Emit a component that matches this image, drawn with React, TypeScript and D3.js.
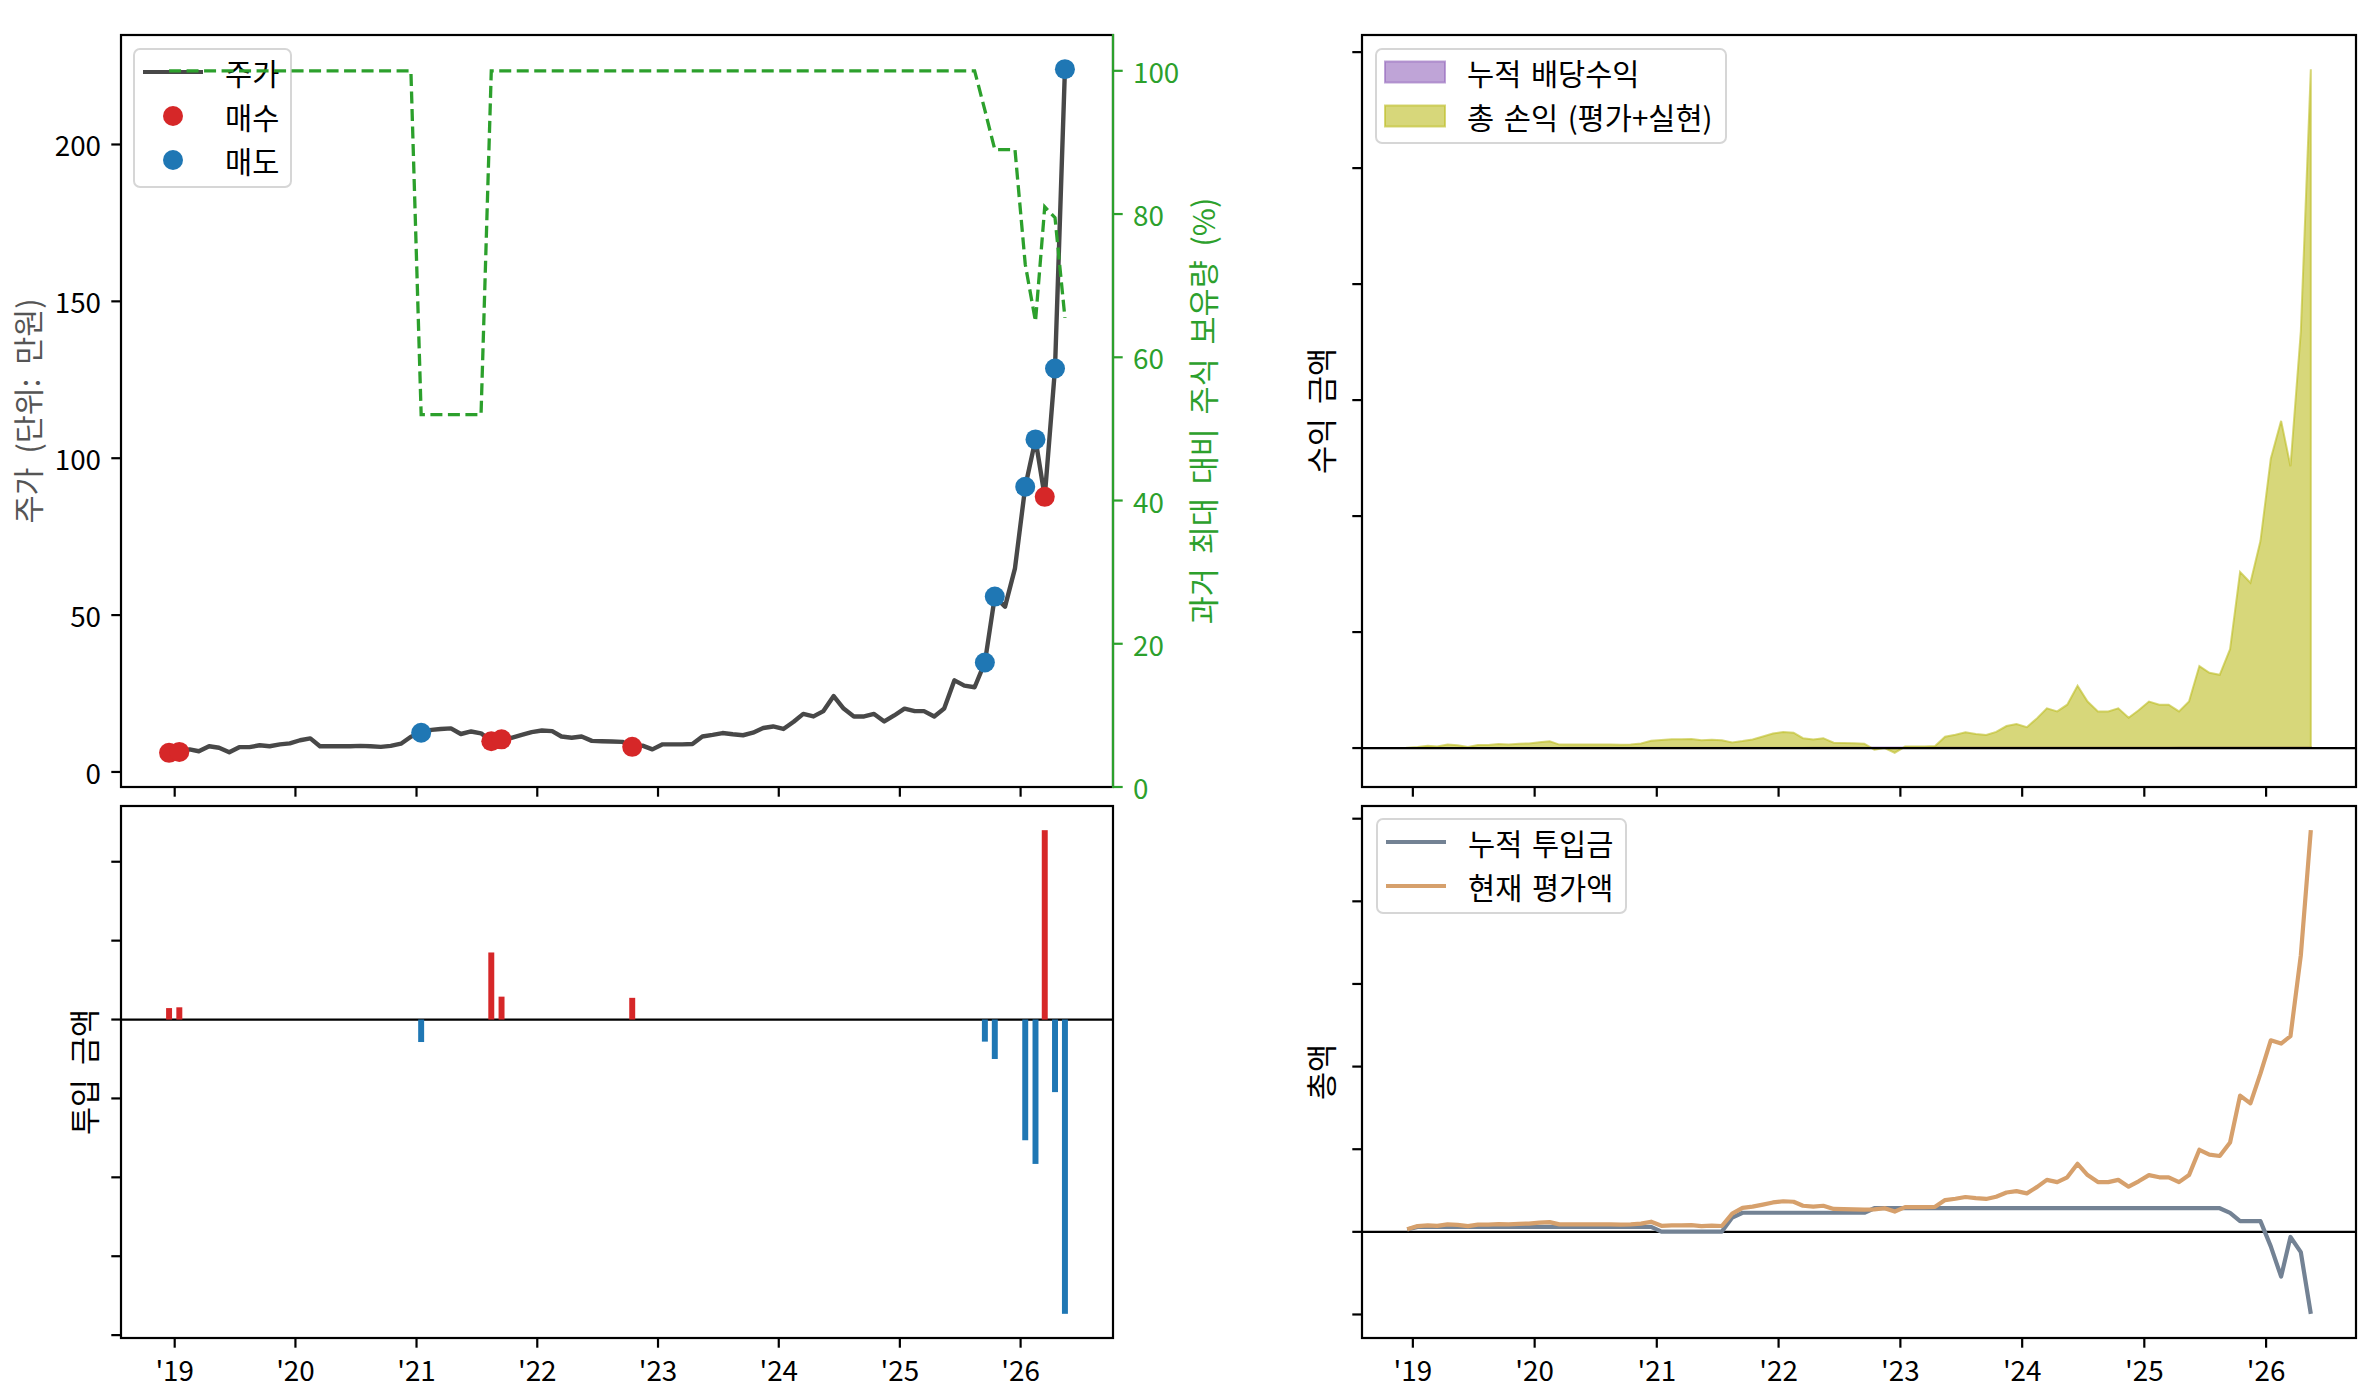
import React, { useRef, useEffect } from 'react'
import * as d3 from 'd3'

// monthly samples (mid-month)
const months = [
  '2018-12',
  '2019-01', '2019-02', '2019-03', '2019-04', '2019-05', '2019-06', '2019-07', '2019-08', '2019-09', '2019-10', '2019-11', '2019-12',
  '2020-01', '2020-02', '2020-03', '2020-04', '2020-05', '2020-06', '2020-07', '2020-08', '2020-09', '2020-10', '2020-11', '2020-12',
  '2021-01', '2021-02', '2021-03', '2021-04', '2021-05', '2021-06', '2021-07', '2021-08', '2021-09', '2021-10', '2021-11', '2021-12',
  '2022-01', '2022-02', '2022-03', '2022-04', '2022-05', '2022-06', '2022-07', '2022-08', '2022-09', '2022-10', '2022-11', '2022-12',
  '2023-01', '2023-02', '2023-03', '2023-04', '2023-05', '2023-06', '2023-07', '2023-08', '2023-09', '2023-10', '2023-11', '2023-12',
  '2024-01', '2024-02', '2024-03', '2024-04', '2024-05', '2024-06', '2024-07', '2024-08', '2024-09', '2024-10', '2024-11', '2024-12',
  '2025-01', '2025-02', '2025-03', '2025-04', '2025-05', '2025-06', '2025-07', '2025-08', '2025-09', '2025-10', '2025-11', '2025-12',
  '2026-01', '2026-02', '2026-03', '2026-04', '2026-05',
]

// 주가 (만원)
const price = [
  6.1,
  6.4, 7.2, 6.6, 8.2, 7.7, 6.3, 7.9, 7.9, 8.5, 8.2, 8.8, 9.1,
  10.1, 10.7, 8.2, 8.2, 8.2, 8.2, 8.3, 8.2, 8.0, 8.3, 9.0, 11.2,
  12.5, 13.4, 13.7, 13.9, 12.1, 12.9, 12.3, 9.8, 10.4, 10.9, 11.8, 12.7,
  13.2, 13.0, 11.3, 10.9, 11.3, 9.9, 9.8, 9.7, 9.6, 8.0, 8.4, 7.2,
  8.8, 8.8, 8.8, 8.9, 11.3, 11.8, 12.4, 12.0, 11.7, 12.5, 14.0, 14.5,
  13.7, 16.0, 18.5, 17.7, 19.4, 24.2, 20.2, 17.7, 17.7, 18.5, 16.1, 18.0,
  20.2, 19.4, 19.4, 17.7, 20.2, 29.2, 27.5, 27.0, 34.9, 55.9, 52.7, 64.9,
  90.9, 106.0, 87.7, 128.6, 224.0,
]

// 과거 최대 대비 주식 보유량 (%)
const holdingPct = [
  100,
  100, 100, 100, 100, 100, 100, 100, 100, 100, 100, 100, 100,
  100, 100, 100, 100, 100, 100, 100, 100, 100, 100, 100, 100,
  52, 52, 52, 52, 52, 52, 52, 100, 100, 100, 100, 100,
  100, 100, 100, 100, 100, 100, 100, 100, 100, 100, 100, 100,
  100, 100, 100, 100, 100, 100, 100, 100, 100, 100, 100, 100,
  100, 100, 100, 100, 100, 100, 100, 100, 100, 100, 100, 100,
  100, 100, 100, 100, 100, 100, 100, 100, 94.5, 89, 89, 89,
  73, 65, 81, 79.5, 65.5,
]

// 매수(+) / 매도(-) 시점과 투입 금액
const tradeIdx = [0, 1, 25, 32, 33, 46, 81, 82, 85, 86, 87, 88, 89]
const tradeAmt = [29, 31, -57, 170, 58, 55, -56, -100, -306, -366, 480, -184, -746]

// 누적 투입금
const invested = [
  29,
  60, 60, 60, 60, 60, 60, 60, 60, 60, 60, 60, 60,
  60, 60, 60, 60, 60, 60, 60, 60, 60, 60, 60, 60,
  3, 3, 3, 3, 3, 3, 3, 173, 231, 231, 231, 231,
  231, 231, 231, 231, 231, 231, 231, 231, 231, 286, 286, 286,
  286, 286, 286, 286, 286, 286, 286, 286, 286, 286, 286, 286,
  286, 286, 286, 286, 286, 286, 286, 286, 286, 286, 286, 286,
  286, 286, 286, 286, 286, 286, 286, 286, 230, 130, 130, 130,
  -176, -542, -62, -246, -992,
]

// 현재 평가액
const marketValue = [
  32,
  70, 79, 73, 90, 85, 69, 87, 87, 94, 90, 97, 100,
  111, 118, 90, 90, 90, 90, 91, 90, 88, 91, 99, 123,
  73, 78, 79, 81, 70, 75, 71, 221, 291, 305, 330, 356,
  370, 364, 316, 305, 316, 277, 274, 272, 269, 272, 286, 245,
  299, 299, 299, 303, 384, 401, 422, 408, 398, 425, 476, 493,
  466, 544, 629, 602, 660, 823, 687, 602, 602, 629, 547, 612,
  687, 660, 660, 602, 687, 993, 935, 918, 1082, 1649, 1555, 1915,
  2318, 2279, 2368, 3344, 4861,
]

// 총 손익 (평가+실현)
const totalProfit = [
  3,
  10, 19, 13, 30, 25, 9, 27, 27, 34, 30, 37, 40,
  51, 58, 30, 30, 30, 30, 31, 30, 28, 31, 39, 63,
  70, 75, 76, 78, 67, 72, 68, 48, 60, 74, 99, 125,
  139, 133, 85, 74, 85, 46, 43, 41, 38, -14, 0, -41,
  13, 13, 13, 17, 98, 115, 136, 122, 112, 139, 190, 207,
  180, 258, 343, 316, 374, 537, 401, 316, 316, 343, 261, 326,
  401, 374, 374, 316, 401, 707, 649, 632, 852, 1519, 1425, 1785,
  2494, 2821, 2430, 3590, 5853,
]

// 누적 배당수익
const dividends = [
  0,
  0, 0, 0, 1, 1, 1, 1, 1, 1, 1, 1, 1,
  1, 1, 1, 2, 2, 2, 2, 2, 2, 2, 2, 2,
  2, 2, 2, 2, 2, 2, 2, 2, 2, 2, 2, 2,
  2, 2, 2, 4, 4, 4, 4, 4, 4, 4, 4, 4,
  4, 4, 4, 6, 6, 6, 6, 6, 6, 6, 6, 6,
  6, 6, 6, 8, 8, 8, 8, 8, 8, 8, 8, 8,
  8, 8, 8, 10, 10, 10, 10, 10, 10, 10, 10, 10,
  10, 10, 10, 10, 10,
]

const yearTicks = [2019, 2020, 2021, 2022, 2023, 2024, 2025, 2026]

const W = 2365
const H = 1397
const FONT = "'Noto Sans CJK KR', 'Noto Sans', sans-serif"
const FS = 27.8 // tick labels
const FS_KO = 30.5 // korean axis labels
const FS_LEG = 29.5 // legend text
const SPINE = 2.2
const TICK = 9.7

const RED = '#d62728'
const BLUE = '#1f77b4'
const GREEN = '#2ca02c'
const PRICE = '#484848'
const SLATE = '#738294'
const PERU = '#d6a06c'
const OLIVE = '#bcbd22'
const PURPLE = '#9467bd'

const P = {
  tl: { x0: 121, x1: 1113, y0: 35, y1: 787 },
  bl: { x0: 121, x1: 1113, y0: 806, y1: 1338 },
  tr: { x0: 1362, x1: 2356, y0: 35, y1: 787 },
  br: { x0: 1362, x1: 2356, y0: 806, y1: 1338 },
}

const padSpan = (lo, hi) => {
  const r = hi - lo
  return [lo - r * 0.05, hi + r * 0.05]
}

export default function App() {
  const ref = useRef(null)

  useEffect(() => {
    const svg = d3.select(ref.current)
    svg.selectAll('*').remove()

    const parse = d3.timeParse('%Y-%m-%d')
    const dates = months.map((m) => parse(m + '-15'))
    const DAY = 864e5
    const half = 9 * DAY
    const t0 = +dates[0]
    const tN = +dates[dates.length - 1]
    const [l0, l1] = padSpan(t0 - half, tN + half)
    const [r0, r1] = padSpan(t0, tN)
    const xL = d3.scaleTime().domain([new Date(l0), new Date(l1)]).range([P.tl.x0, P.tl.x1])
    const xR = d3.scaleTime().domain([new Date(r0), new Date(r1)]).range([P.tr.x0, P.tr.x1])

    const yPrice = d3.scaleLinear().domain(padSpan(d3.min(price), d3.max(price))).range([P.tl.y1, P.tl.y0])
    const yPct = d3.scaleLinear().domain([0, 105]).range([P.tl.y1, P.tl.y0])
    const yTrade = d3
      .scaleLinear()
      .domain(padSpan(Math.min(0, d3.min(tradeAmt)), Math.max(0, d3.max(tradeAmt))))
      .range([P.bl.y1, P.bl.y0])
    const yProfit = d3
      .scaleLinear()
      .domain(padSpan(Math.min(0, d3.min(totalProfit), d3.min(dividends)), d3.max(totalProfit)))
      .range([P.tr.y1, P.tr.y0])
    const yTotal = d3
      .scaleLinear()
      .domain(padSpan(Math.min(d3.min(invested), d3.min(marketValue)), Math.max(d3.max(invested), d3.max(marketValue))))
      .range([P.br.y1, P.br.y0])

    const root = svg.append('g').attr('font-family', FONT).attr('font-size', FS)

    const clip = (id, p) => {
      svg
        .append('clipPath')
        .attr('id', id)
        .append('rect')
        .attr('x', p.x0)
        .attr('y', p.y0)
        .attr('width', p.x1 - p.x0)
        .attr('height', p.y1 - p.y0)
    }
    clip('c-tl', P.tl)
    clip('c-bl', P.bl)
    clip('c-tr', P.tr)
    clip('c-br', P.br)

    const frame = (g, p) => {
      g.append('rect')
        .attr('x', p.x0)
        .attr('y', p.y0)
        .attr('width', p.x1 - p.x0)
        .attr('height', p.y1 - p.y0)
        .attr('fill', 'none')
        .attr('stroke', '#000')
        .attr('stroke-width', SPINE)
    }

    const xTicks = (g, x, p, labels) => {
      yearTicks.forEach((yr) => {
        const px = x(new Date(yr, 0, 1))
        g.append('line')
          .attr('x1', px)
          .attr('x2', px)
          .attr('y1', p.y1)
          .attr('y2', p.y1 + TICK)
          .attr('stroke', '#000')
          .attr('stroke-width', SPINE)
        if (labels) {
          g.append('text')
            .attr('x', px)
            .attr('y', p.y1 + 31)
            .attr('text-anchor', 'middle')
            .attr('dominant-baseline', 'central')
            .text(`'${String(yr).slice(2)}`)
        }
      })
    }

    const yTicks = (g, y, p, labels, side = 'left', color = '#000') => {
      const vals = y.ticks(7)
      const xs = side === 'left' ? p.x0 : p.x1
      const dir = side === 'left' ? -1 : 1
      vals.forEach((v) => {
        const py = y(v)
        if (py < p.y0 - 0.5 || py > p.y1 + 0.5) return
        g.append('line')
          .attr('x1', xs)
          .attr('x2', xs + dir * TICK)
          .attr('y1', py)
          .attr('y2', py)
          .attr('stroke', color)
          .attr('stroke-width', SPINE)
        if (labels) {
          g.append('text')
            .attr('x', xs + dir * 20)
            .attr('y', py)
            .attr('text-anchor', side === 'left' ? 'end' : 'start')
            .attr('dominant-baseline', 'central')
            .attr('fill', color)
            .text(v)
        }
      })
    }

    const yLabel = (g, text, x, p, color = '#000') => {
      g.append('text')
        .attr('transform', `translate(${x},${(p.y0 + p.y1) / 2}) rotate(-90)`)
        .attr('text-anchor', 'middle')
        .attr('dominant-baseline', 'central')
        .attr('font-size', FS_KO)
        .attr('word-spacing', 7)
        .attr('fill', color)
        .text(text)
    }

    const legend = (g, bx, by, bw, items) => {
      const bh = 6 + 44 * items.length
      g.append('rect')
        .attr('x', bx)
        .attr('y', by)
        .attr('width', bw)
        .attr('height', bh)
        .attr('rx', 6)
        .attr('fill', '#fff')
        .attr('fill-opacity', 0.8)
        .attr('stroke', '#d6d6d6')
        .attr('stroke-width', 2)
      items.forEach((it, k) => {
        const cy = by + 23 + k * 44
        const hx0 = bx + 9
        const hx1 = bx + 69
        if (it.type === 'line') {
          g.append('line')
            .attr('x1', hx0)
            .attr('x2', hx1)
            .attr('y1', cy)
            .attr('y2', cy)
            .attr('stroke', it.color)
            .attr('stroke-width', 4.2)
        } else if (it.type === 'dot') {
          g.append('circle').attr('cx', (hx0 + hx1) / 2).attr('cy', cy).attr('r', 10).attr('fill', it.color)
        } else {
          g.append('rect')
            .attr('x', hx0)
            .attr('y', cy - 10.5)
            .attr('width', hx1 - hx0)
            .attr('height', 21)
            .attr('fill', it.color)
            .attr('fill-opacity', 0.6)
            .attr('stroke', it.color)
            .attr('stroke-opacity', 0.6)
            .attr('stroke-width', 2)
        }
        g.append('text')
          .attr('x', bx + 91)
          .attr('y', cy)
          .attr('dominant-baseline', 'central')
          .attr('font-size', FS_LEG)
          .attr('word-spacing', 3)
          .text(it.label)
      })
    }

    // ---------- top left: price + trades, twin holding %
    const tl = root.append('g')
    tl.append('path')
      .datum(price)
      .attr('clip-path', 'url(#c-tl)')
      .attr('fill', 'none')
      .attr('stroke', PRICE)
      .attr('stroke-width', 4.4)
      .attr('stroke-linejoin', 'round')
      .attr(
        'd',
        d3
          .line()
          .x((d, i) => xL(dates[i]))
          .y((d) => yPrice(d))
      )
    tradeIdx.forEach((idx, k) => {
      tl.append('circle')
        .attr('cx', xL(dates[idx]))
        .attr('cy', yPrice(price[idx]))
        .attr('r', 10)
        .attr('fill', tradeAmt[k] > 0 ? RED : BLUE)
    })
    frame(tl, P.tl)
    xTicks(tl, xL, P.tl, false)
    yTicks(tl, yPrice, P.tl, true)
    yLabel(tl, '주가 (단위: 만원)', 27, P.tl, '#555')
    legend(tl, 134, 49, 157, [
      { type: 'line', color: PRICE, label: '주가' },
      { type: 'dot', color: RED, label: '매수' },
      { type: 'dot', color: BLUE, label: '매도' },
    ])
    // twin axis drawn on top
    tl.append('path')
      .datum(holdingPct)
      .attr('clip-path', 'url(#c-tl)')
      .attr('fill', 'none')
      .attr('stroke', GREEN)
      .attr('stroke-width', 3.3)
      .attr('stroke-dasharray', '12,5.5')
      .attr(
        'd',
        d3
          .line()
          .x((d, i) => xL(dates[i]))
          .y((d) => yPct(d))
      )
    tl.append('line')
      .attr('x1', P.tl.x1)
      .attr('x2', P.tl.x1)
      .attr('y1', P.tl.y0 - 1)
      .attr('y2', P.tl.y1 + 1)
      .attr('stroke', GREEN)
      .attr('stroke-width', SPINE)
    yTicks(tl, yPct, P.tl, true, 'right', GREEN)
    yLabel(tl, '과거 최대 대비 주식 보유량 (%)', 1202, P.tl, GREEN)

    // ---------- bottom left: trade amounts
    const bl = root.append('g')
    const barW = xL(new Date(t0 + half)) - xL(new Date(t0 - half))
    bl.append('line')
      .attr('x1', P.bl.x0)
      .attr('x2', P.bl.x1)
      .attr('y1', yTrade(0))
      .attr('y2', yTrade(0))
      .attr('stroke', '#000')
      .attr('stroke-width', SPINE)
    tradeIdx.forEach((idx, k) => {
      const v = tradeAmt[k]
      bl.append('rect')
        .attr('x', xL(dates[idx]) - barW / 2)
        .attr('width', barW)
        .attr('y', yTrade(Math.max(0, v)))
        .attr('height', Math.abs(yTrade(v) - yTrade(0)))
        .attr('fill', v > 0 ? RED : BLUE)
    })
    frame(bl, P.bl)
    xTicks(bl, xL, P.bl, true)
    yTicks(bl, yTrade, P.bl, false)
    yLabel(bl, '투입 금액', 83, P.bl)

    // ---------- top right: profit areas
    const tr = root.append('g')
    const area = (vals) =>
      d3
        .area()
        .x((d, i) => xR(dates[i]))
        .y0(yProfit(0))
        .y1((d) => yProfit(d))(vals)
    tr.append('path')
      .attr('clip-path', 'url(#c-tr)')
      .attr('d', area(dividends))
      .attr('fill', PURPLE)
      .attr('fill-opacity', 0.6)
      .attr('stroke', PURPLE)
      .attr('stroke-opacity', 0.6)
      .attr('stroke-width', 2)
    tr.append('path')
      .attr('clip-path', 'url(#c-tr)')
      .attr('d', area(totalProfit))
      .attr('fill', OLIVE)
      .attr('fill-opacity', 0.6)
      .attr('stroke', OLIVE)
      .attr('stroke-opacity', 0.6)
      .attr('stroke-width', 2)
    tr.append('line')
      .attr('x1', P.tr.x0)
      .attr('x2', P.tr.x1)
      .attr('y1', yProfit(0))
      .attr('y2', yProfit(0))
      .attr('stroke', '#000')
      .attr('stroke-width', SPINE)
    frame(tr, P.tr)
    xTicks(tr, xR, P.tr, false)
    yTicks(tr, yProfit, P.tr, false)
    yLabel(tr, '수익 금액', 1320, P.tr)
    legend(tr, 1376, 49, 350, [
      { type: 'patch', color: PURPLE, label: '누적 배당수익' },
      { type: 'patch', color: OLIVE, label: '총 손익 (평가+실현)' },
    ])

    // ---------- bottom right: invested vs value
    const br = root.append('g')
    br.append('line')
      .attr('x1', P.br.x0)
      .attr('x2', P.br.x1)
      .attr('y1', yTotal(0))
      .attr('y2', yTotal(0))
      .attr('stroke', '#000')
      .attr('stroke-width', SPINE)
    const lineR = d3
      .line()
      .x((d, i) => xR(dates[i]))
      .y((d) => yTotal(d))
    br.append('path')
      .attr('clip-path', 'url(#c-br)')
      .attr('d', lineR(invested))
      .attr('fill', 'none')
      .attr('stroke', SLATE)
      .attr('stroke-width', 4.2)
      .attr('stroke-linejoin', 'round')
    br.append('path')
      .attr('clip-path', 'url(#c-br)')
      .attr('d', lineR(marketValue))
      .attr('fill', 'none')
      .attr('stroke', PERU)
      .attr('stroke-width', 4.2)
      .attr('stroke-linejoin', 'round')
    frame(br, P.br)
    xTicks(br, xR, P.br, true)
    yTicks(br, yTotal, P.br, false)
    yLabel(br, '총액', 1320, P.br)
    legend(br, 1377, 819, 249, [
      { type: 'line', color: SLATE, label: '누적 투입금' },
      { type: 'line', color: PERU, label: '현재 평가액' },
    ])
  }, [])

  return (
    <svg
      ref={ref}
      width={W}
      height={H}
      style={{ position: 'absolute', left: 0, top: 0, background: '#fff' }}
    ></svg>
  )
}
